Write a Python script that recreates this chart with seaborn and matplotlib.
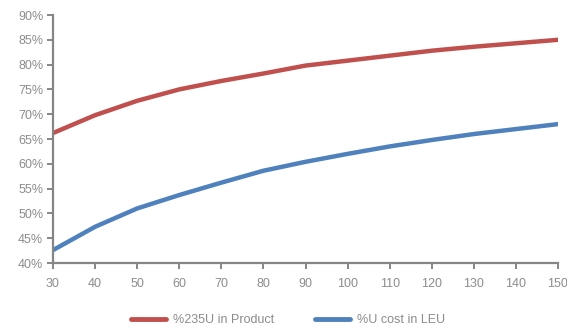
import matplotlib
matplotlib.use("Agg")
import matplotlib.pyplot as plt
from matplotlib.ticker import FuncFormatter
import seaborn as sns
import pandas as pd

# Enrichment tails assay (x axis) and resulting shares
assay = [30, 40, 50, 60, 70, 80, 90, 100, 110, 120, 130, 140, 150]
u235_in_product = [66.2, 69.8, 72.7, 75.0, 76.7, 78.2, 79.8, 80.8, 81.8, 82.8, 83.6, 84.3, 85.0]
u_cost_in_leu = [42.6, 47.3, 51.0, 53.7, 56.2, 58.6, 60.4, 62.0, 63.5, 64.8, 66.0, 67.0, 68.0]

series_names = ["%235U in Product", "%U cost in LEU"]
colors = ["#C0504D", "#4F81BD"]

df = pd.DataFrame({
    "assay": assay * 2,
    "value": u235_in_product + u_cost_in_leu,
    "series": [series_names[0]] * len(assay) + [series_names[1]] * len(assay),
})

sns.set_theme(style="white")
plt.rcParams["font.family"] = ["Liberation Sans", "DejaVu Sans"]

fig = plt.figure(figsize=(5.67, 3.29), dpi=100)
ax = fig.add_axes([53 / 567, 1 - 263 / 329, (558 - 53) / 567, (263 - 15) / 329])

sns.lineplot(data=df, x="assay", y="value", hue="series", palette=colors,
             linewidth=3.2, ax=ax, legend=False, solid_capstyle="round")

ax.set_xlim(30, 150)
ax.set_ylim(40, 90)
ax.set_xticks(assay)
ax.set_yticks(range(40, 91, 5))
ax.yaxis.set_major_formatter(FuncFormatter(lambda v, p: f"{v:.0f}%"))
ax.set_xlabel("")
ax.set_ylabel("")

gray = "#868686"
label_gray = "#8C8C8C"
for side in ["top", "right"]:
    ax.spines[side].set_visible(False)
for side in ["left", "bottom"]:
    ax.spines[side].set_color(gray)
    ax.spines[side].set_linewidth(1.6)
ax.tick_params(axis="both", direction="out", length=4, width=1.4, color=gray,
               labelcolor=label_gray, labelsize=9, left=True, bottom=True)
ax.tick_params(axis="x", pad=7)
ax.tick_params(axis="y", pad=3)

handles = [plt.Line2D([0], [0], color=c, linewidth=3.5, solid_capstyle="round") for c in colors]
leg = fig.legend(handles, series_names, loc="lower center", bbox_to_anchor=(0.508, -0.025),
                 ncol=2, frameon=False, fontsize=9, handlelength=2.8, columnspacing=3.2,
                 handletextpad=0.6)
for t in leg.get_texts():
    t.set_color(label_gray)

fig.savefig("out.png", dpi=100)
